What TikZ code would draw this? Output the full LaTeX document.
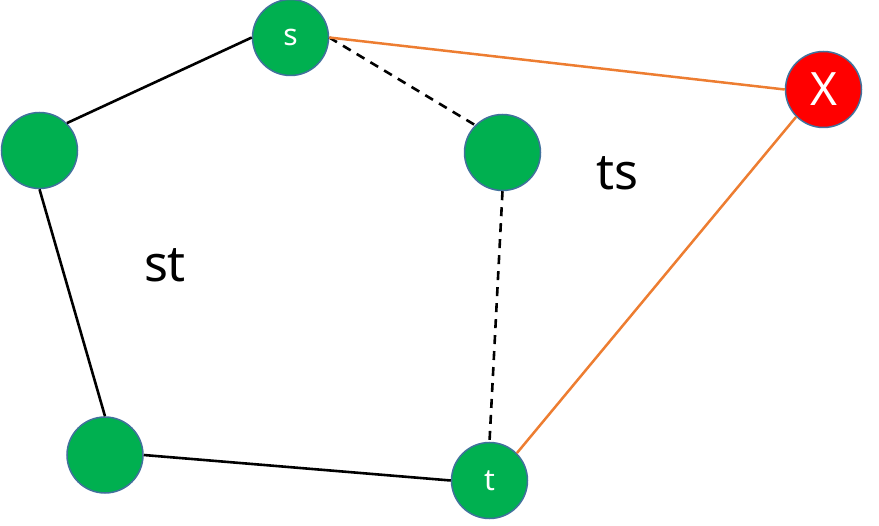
\documentclass[tikz,border=0pt]{standalone}
\usepackage{fontspec}
\setmainfont{Noto Sans}
\definecolor{gfill}{HTML}{00B050}
\definecolor{rfill}{HTML}{FF0000}
\definecolor{edge}{HTML}{41719C}
\definecolor{org}{HTML}{ED7D31}
\begin{document}
\begin{tikzpicture}[x=1pt,y=-1pt,
  vtx/.style={circle,draw=edge,line width=1.5pt,fill=gfill,minimum size=76pt,inner sep=0pt,text=white,font=\fontsize{30}{30}\selectfont},
  rvtx/.style={vtx,fill=rfill,font=\fontsize{46}{46}\selectfont},
  solidedge/.style={black,line width=2.6pt},
  dashedge/.style={black,line width=2.6pt,dash pattern=on 9pt off 7pt},
  orgedge/.style={org,line width=2.5pt},
  lbl/.style={font=\fontsize{50}{50}\selectfont,inner sep=0pt}]
\useasboundingbox (0,0) rectangle (879,526);
\node[vtx] (s) at (290.5,37.5) {s};
\node[vtx] (l) at (39.5,150.5) {};
\node[vtx] (r) at (502.5,152.5) {};
\node[vtx] (b) at (105,455) {};
\node[vtx] (t) at (489.5,480.5) {t};
\node[rvtx] (x) at (823.5,89.5) {X};
\draw[solidedge] (l.north east) -- (s.west);
\draw[solidedge] (l.south) -- (b.north);
\draw[solidedge] (b.east) -- (t.west);
\draw[dashedge] (s.east) -- (r.north west);
\draw[dashedge] (r.south) -- (t.north);
\draw[orgedge] (s.east) -- (x.west);
\draw[orgedge] (x.south west) -- (t.north east);
\node[lbl] (st) at (165,265) {st};
\node[lbl] (ts) at (617,173) {ts};
\end{tikzpicture}
\end{document}
